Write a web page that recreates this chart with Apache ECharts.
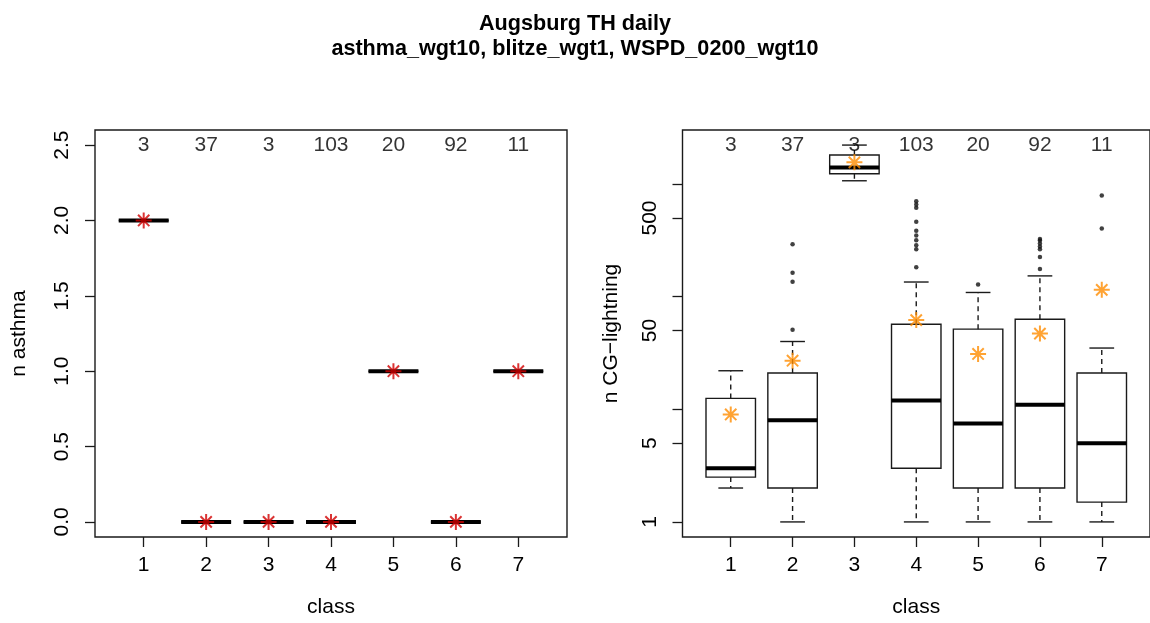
<!DOCTYPE html>
<html>
<head>
<meta charset="utf-8">
<script src="https://cdn.jsdelivr.net/npm/echarts@6/dist/echarts.min.js"></script>
<style>
  html, body { margin: 0; padding: 0; background: #fff; }
  #chart { width: 1150px; height: 623px; }
</style>
</head>
<body>
<div id="chart"></div>
<script>
// ---- data ----
const classes = [1, 2, 3, 4, 5, 6, 7];
const classCounts = [3, 37, 3, 103, 20, 92, 11];

// n asthma per class: [min, lower hinge, median, upper hinge, max]
const asthmaStats = [
  [2, 2, 2, 2, 2],
  [0, 0, 0, 0, 0],
  [0, 0, 0, 0, 0],
  [0, 0, 0, 0, 0],
  [1, 1, 1, 1, 1],
  [0, 0, 0, 0, 0],
  [1, 1, 1, 1, 1]
];
const asthmaMeans = [2, 0, 0, 0, 1, 0, 1];
const asthmaYlim = [0, 2.5];
const asthmaTicks = [0, 0.5, 1, 1.5, 2, 2.5];

// n CG-lightning per class: [lower whisker, lower hinge, median, upper hinge, upper whisker]
const lightningStats = [
  [2, 2.5, 3, 12.5, 22],
  [1, 2, 8, 21, 40],
  [1070, 1235, 1400, 1810, 2220],
  [1, 3, 12, 57, 135],
  [1, 2, 7.5, 51.5, 109],
  [1, 2, 11, 63, 153],
  [1, 1.5, 5, 21, 35]
];
const lightningOutliers = [
  [],
  [51, 136, 163, 292],
  [],
  [183, 264, 286, 317, 350, 385, 462, 616, 658, 705],
  [128],
  [176, 225, 264, 279, 296, 315, 325],
  [403, 790]
];
const lightningMeans = [9, 27, 1560, 62, 31, 47, 115];
const lightningTicks = [1, 5, 10, 50, 100, 500, 1000];
const lightningTickLabels = [1, 5, 50, 500];

// ---- helpers ----
const FONT = 'Liberation Sans, Arial, sans-serif';
const INK = '#1a1a1a';
const TEXT = '#000';
const BOX_WEX = 0.8;
const lg = v => Math.log10(v);

function padRange(lo, hi) {
  const d = (hi - lo) * 0.04;
  return [lo - d, hi + d];
}
const xRange = padRange(0.5, classes.length + 0.5);
const yLeft = padRange(asthmaYlim[0], asthmaYlim[1]);
const lightLo = lg(Math.min(...lightningStats.map(s => s[0])));
const lightHi = lg(Math.max(...lightningStats.map(s => s[4]), ...lightningOutliers.flat()));
const yRight = padRange(lightLo, lightHi);

// R-style box: dashed whiskers, half-width staples, thick median
function renderBox(params, api) {
  const x = api.value(0);
  const lo = api.coord([x, api.value(1)]);
  const q1 = api.coord([x, api.value(2)]);
  const md = api.coord([x, api.value(3)]);
  const q3 = api.coord([x, api.value(4)]);
  const hi = api.coord([x, api.value(5)]);
  const half = api.size([BOX_WEX, 0])[0] / 2;
  const cx = md[0];
  const solid = { stroke: INK, lineWidth: 1.4, fill: null };
  const dashed = { stroke: INK, lineWidth: 1.4, lineDash: [5, 4], fill: null };
  return {
    type: 'group',
    children: [
      { type: 'line', shape: { x1: cx, y1: q3[1], x2: cx, y2: hi[1] }, style: dashed },
      { type: 'line', shape: { x1: cx, y1: q1[1], x2: cx, y2: lo[1] }, style: dashed },
      { type: 'line', shape: { x1: cx - half / 2, y1: hi[1], x2: cx + half / 2, y2: hi[1] }, style: solid },
      { type: 'line', shape: { x1: cx - half / 2, y1: lo[1], x2: cx + half / 2, y2: lo[1] }, style: solid },
      { type: 'rect', shape: { x: cx - half, y: q3[1], width: 2 * half, height: q1[1] - q3[1] },
        style: { stroke: INK, lineWidth: 1.4, fill: 'transparent' } },
      { type: 'line', shape: { x1: cx - half, y1: md[1], x2: cx + half, y2: md[1] },
        style: { stroke: '#000', lineWidth: 4, lineCap: 'butt' } }
    ]
  };
}

const ASTERISK = 'path://M0,-10L0,10M-10,0L10,0M-7.07,-7.07L7.07,7.07M-7.07,7.07L7.07,-7.07';

function xAxisFor(gridIndex) {
  return {
    gridIndex, type: 'value', min: xRange[0], max: xRange[1],
    name: 'class', nameLocation: 'middle', nameGap: 60,
    nameTextStyle: { fontFamily: FONT, fontSize: 21, color: TEXT },
    axisLine: { show: false, onZero: false },
    splitLine: { show: false },
    axisTick: { show: true, inside: false, customValues: classes, length: 10, lineStyle: { color: INK, width: 1.3 } },
    axisLabel: { customValues: classes, margin: 18, fontFamily: FONT, fontSize: 21, color: TEXT,
      formatter: v => String(Math.round(v)) }
  };
}

const gridBase = { top: 130, height: 413, width: 472, show: true, borderColor: INK, borderWidth: 1.4,
  backgroundColor: 'transparent', containLabel: false };

const option = {
  animation: false,
  backgroundColor: '#fff',
  title: {
    text: 'Augsburg TH daily\nasthma_wgt10, blitze_wgt1, WSPD_0200_wgt10',
    left: 'center', top: 7,
    textStyle: { fontFamily: FONT, fontSize: 21.6, fontWeight: 'bold', color: '#000', lineHeight: 25 }
  },
  grid: [
    Object.assign({ left: 95 }, gridBase),
    Object.assign({ left: 682.5 }, gridBase)
  ],
  xAxis: [xAxisFor(0), xAxisFor(1)],
  yAxis: [
    {
      gridIndex: 0, type: 'value', min: yLeft[0], max: yLeft[1],
      name: 'n asthma', nameLocation: 'middle', nameGap: 65, nameRotate: 90,
      nameTextStyle: { fontFamily: FONT, fontSize: 21, color: TEXT },
      axisLine: { show: false, onZero: false }, splitLine: { show: false },
      axisTick: { show: true, customValues: asthmaTicks, length: 10, lineStyle: { color: INK, width: 1.3 } },
      axisLabel: { customValues: asthmaTicks, rotate: 90, margin: 22, fontFamily: FONT, fontSize: 21, color: TEXT,
        formatter: v => v.toFixed(1) }
    },
    {
      gridIndex: 1, type: 'value', min: yRight[0], max: yRight[1],
      name: 'n CG\u2212lightning', nameLocation: 'middle', nameGap: 61, nameRotate: 90,
      nameTextStyle: { fontFamily: FONT, fontSize: 21, color: TEXT },
      axisLine: { show: false, onZero: false }, splitLine: { show: false },
      axisTick: { show: true, customValues: lightningTicks.map(lg), length: 10, lineStyle: { color: INK, width: 1.3 } },
      axisLabel: { customValues: lightningTickLabels.map(lg), rotate: 90, margin: 22, fontFamily: FONT, fontSize: 21, color: TEXT,
        formatter: v => String(Math.round(Math.pow(10, v))) }
    }
  ],
  series: [
    // left panel: n asthma
    {
      type: 'custom', xAxisIndex: 0, yAxisIndex: 0, renderItem: renderBox, clip: false,
      encode: { x: 0, y: [1, 2, 3, 4, 5] },
      data: classes.map((c, i) => [c, ...asthmaStats[i]])
    },
    {
      type: 'scatter', xAxisIndex: 0, yAxisIndex: 0, symbol: ASTERISK, symbolSize: 16,
      itemStyle: { color: 'transparent', borderColor: '#d10000', borderWidth: 2 },
      data: classes.map((c, i) => [c, asthmaMeans[i]])
    },
    {
      type: 'scatter', xAxisIndex: 0, yAxisIndex: 0, symbolSize: 0,
      label: { show: true, position: 'inside', fontFamily: FONT, fontSize: 21, color: TEXT,
        formatter: p => String(classCounts[p.dataIndex]) },
      data: classes.map(c => [c, asthmaYlim[1]])
    },
    // right panel: n CG-lightning (log10 scale)
    {
      type: 'custom', xAxisIndex: 1, yAxisIndex: 1, renderItem: renderBox, clip: false,
      encode: { x: 0, y: [1, 2, 3, 4, 5] },
      data: classes.map((c, i) => [c, ...lightningStats[i].map(lg)])
    },
    {
      type: 'scatter', xAxisIndex: 1, yAxisIndex: 1, symbol: 'circle', symbolSize: 4.5,
      itemStyle: { color: '#111' },
      data: classes.flatMap((c, i) => lightningOutliers[i].map(v => [c, lg(v)]))
    },
    {
      type: 'scatter', xAxisIndex: 1, yAxisIndex: 1, symbol: ASTERISK, symbolSize: 16,
      itemStyle: { color: 'transparent', borderColor: '#ff8c00', borderWidth: 2 },
      data: classes.map((c, i) => [c, lg(lightningMeans[i])])
    },
    {
      type: 'scatter', xAxisIndex: 1, yAxisIndex: 1, symbolSize: 0,
      label: { show: true, position: 'inside', fontFamily: FONT, fontSize: 21, color: TEXT,
        formatter: p => String(classCounts[p.dataIndex]) },
      data: classes.map(c => [c, lightHi])
    }
  ]
};

const chart = echarts.init(document.getElementById('chart'), null, { renderer: 'canvas' });
chart.setOption(option);
</script>
</body>
</html>
